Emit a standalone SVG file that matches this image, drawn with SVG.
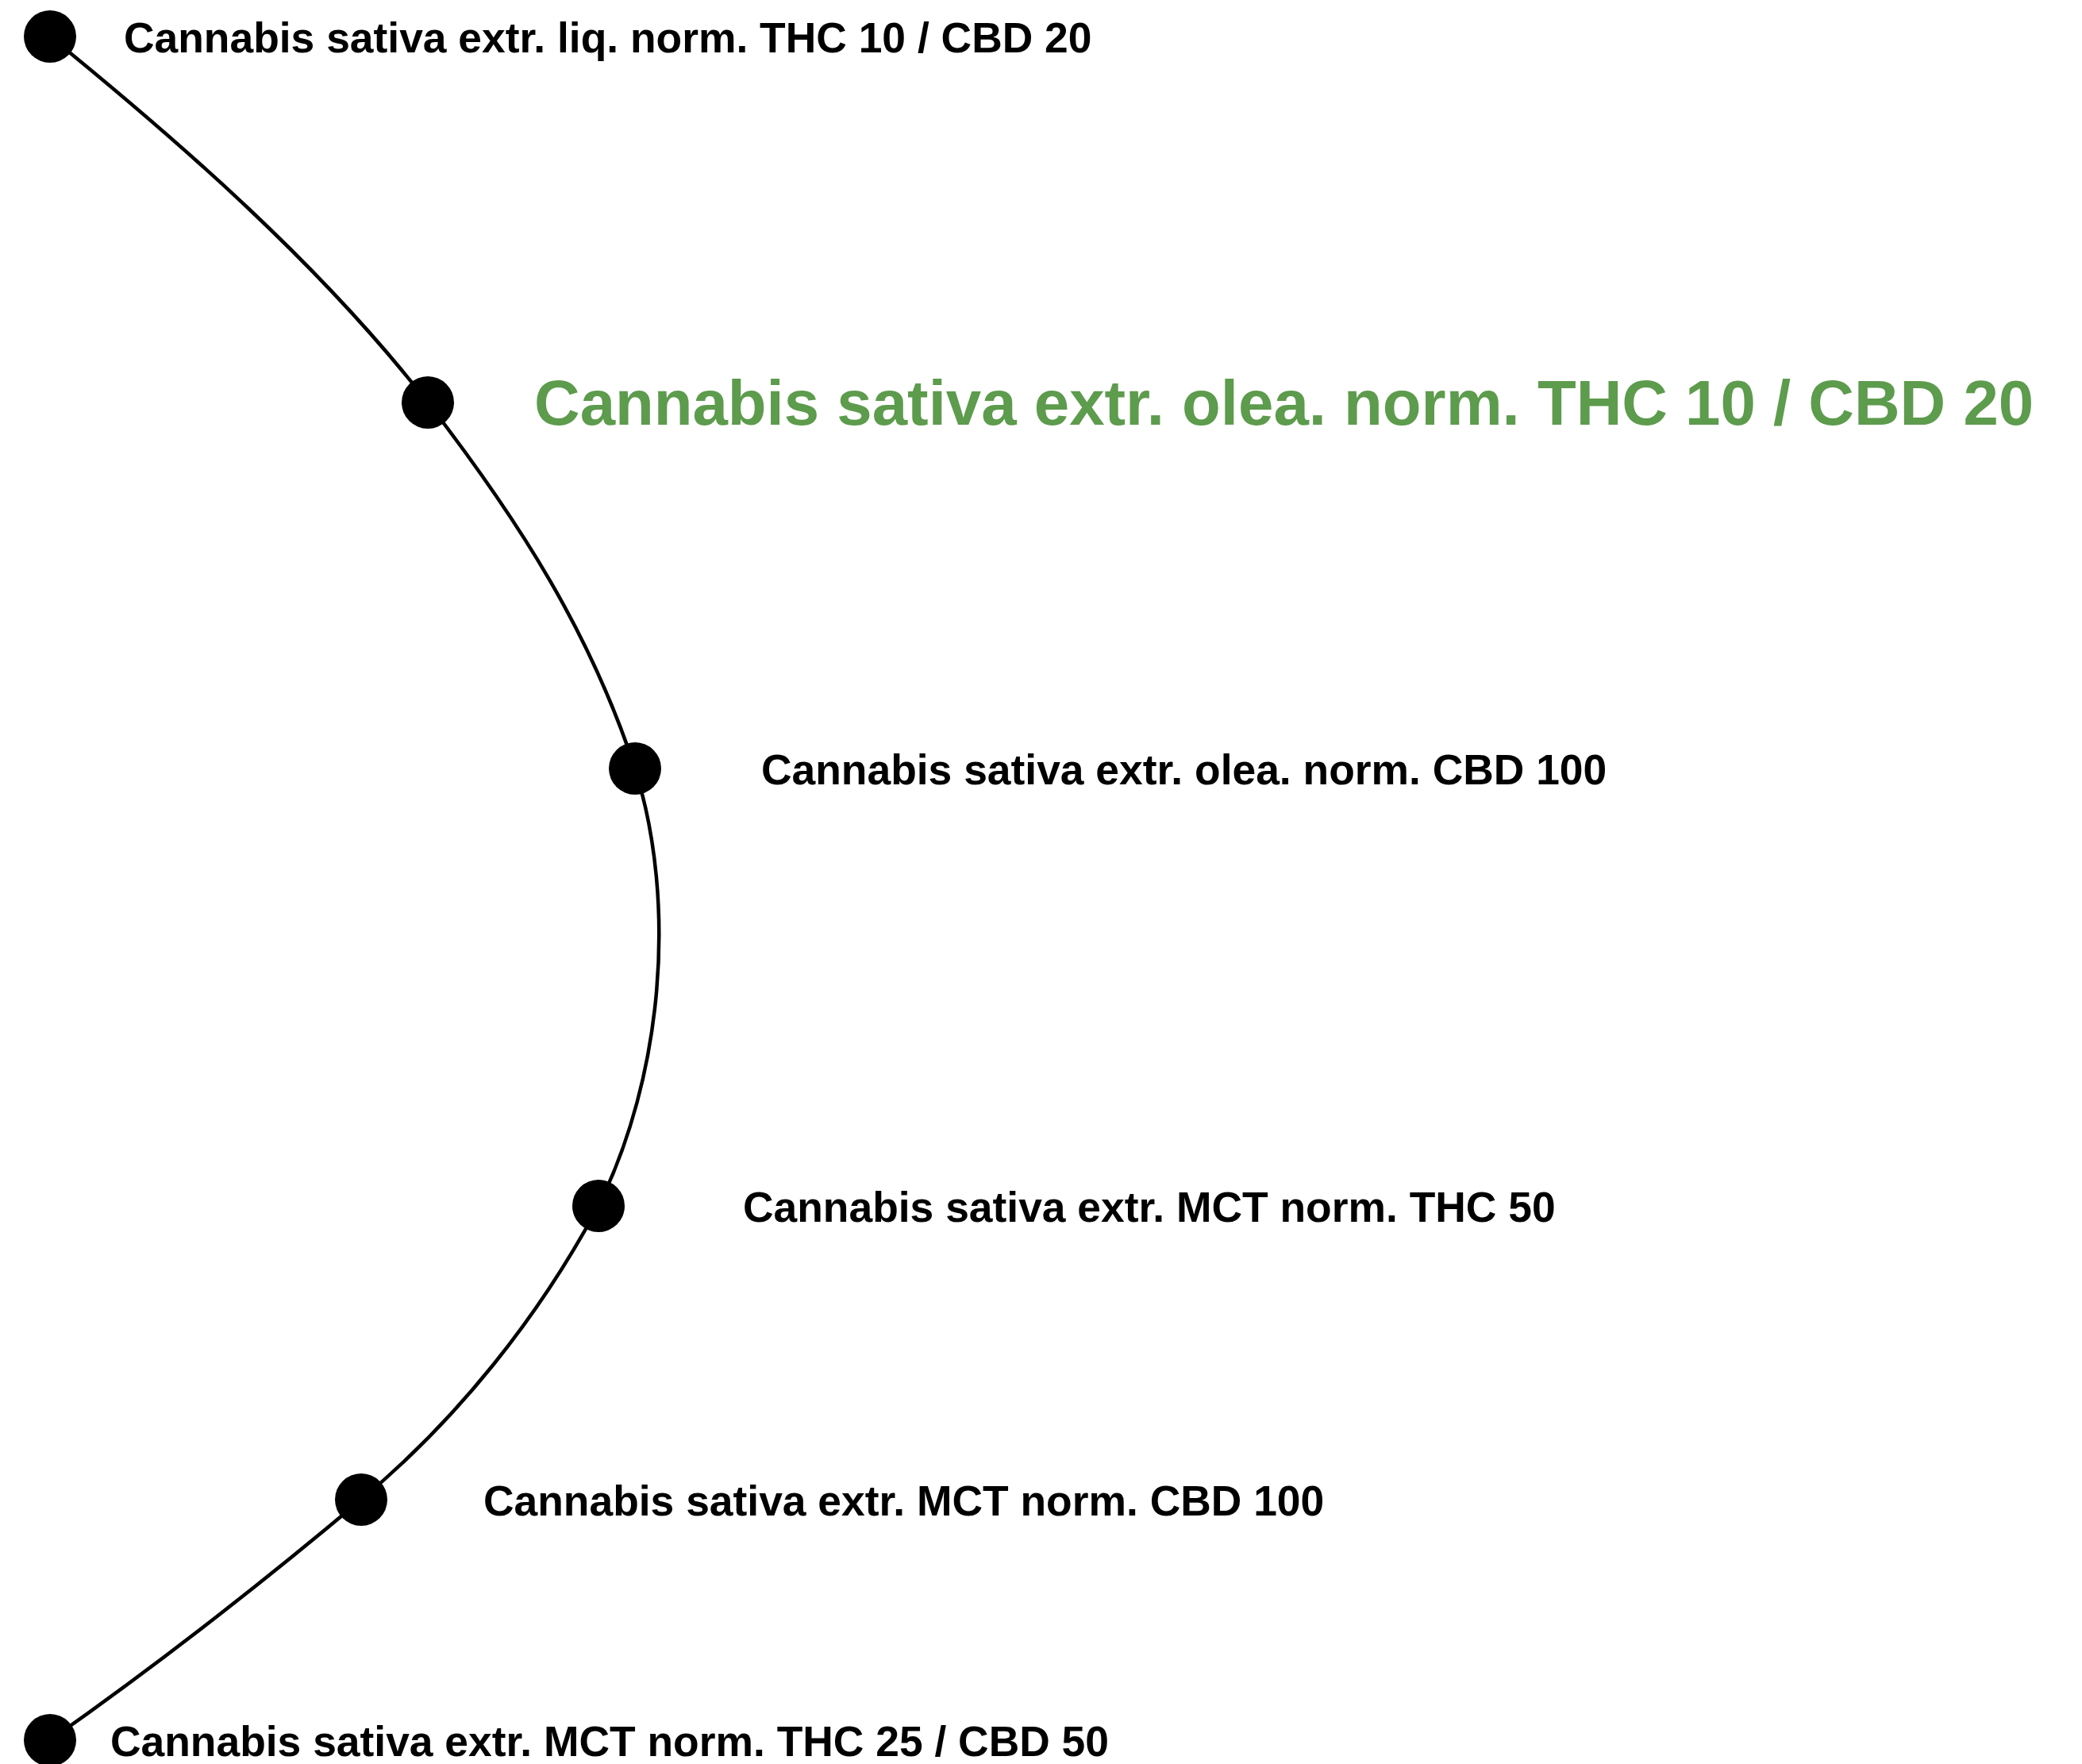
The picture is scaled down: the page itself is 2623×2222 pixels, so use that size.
<svg xmlns="http://www.w3.org/2000/svg" width="2623" height="2222" viewBox="0 0 2623 2222">
<style>
.edge{fill:none;stroke:#000;stroke-width:4.5}
.dot{fill:#000}
.lbl{font-family:"Liberation Sans",Arial,sans-serif;font-weight:bold;font-size:53.4px;fill:#000}
.hl{font-size:79.8px;fill:#5d9b4d}
</style>
<rect width="2623" height="2222" fill="#fff"/>
<g id="connectors">
<path class="edge" d="M63,46 C228,180 405,335 539,507"/>
<path class="edge" d="M539,507 C657,660 745,800 800,968"/>
<path class="edge" d="M800,968 C854,1140 834,1357 754,1519"/>
<path class="edge" d="M754,1519 C679,1659 577,1787 455,1889"/>
<path class="edge" d="M455,1889 C329,1995 198,2097 63,2192"/>
</g>
<g id="node1"><circle class="dot" cx="63" cy="46" r="33"/><text class="lbl" x="156" y="66">Cannabis sativa extr. liq. norm. THC 10 / CBD 20</text></g>
<g id="node2"><circle class="dot" cx="539" cy="507" r="33"/><text class="lbl hl" x="673" y="535">Cannabis sativa extr. olea. norm. THC 10 / CBD 20</text></g>
<g id="node3"><circle class="dot" cx="800" cy="968" r="33"/><text class="lbl" x="959" y="988">Cannabis sativa extr. olea. norm. CBD 100</text></g>
<g id="node4"><circle class="dot" cx="754" cy="1519" r="33"/><text class="lbl" x="936" y="1539">Cannabis sativa extr. MCT norm. THC 50</text></g>
<g id="node5"><circle class="dot" cx="455" cy="1889" r="33"/><text class="lbl" x="609" y="1909">Cannabis sativa extr. MCT norm. CBD 100</text></g>
<g id="node6"><circle class="dot" cx="63" cy="2192" r="33"/><text class="lbl" x="139" y="2212">Cannabis sativa extr. MCT norm. THC 25 / CBD 50</text></g>
</svg>
